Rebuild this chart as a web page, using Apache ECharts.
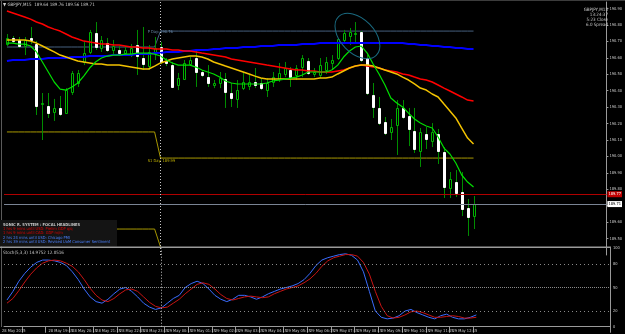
<!DOCTYPE html>
<html>
<head>
<meta charset="utf-8">
<script src="https://cdn.jsdelivr.net/npm/echarts@6/dist/echarts.min.js"></script>
<style>
html, body { margin: 0; padding: 0; background: #000; }
#chart { width: 625px; height: 334px; }
</style>
</head>
<body>
<div id="chart"></div>
<script>
// GBPJPY M15, 28 May 17:30 .. 29 May 13:15
const opens = [190.684,190.721,190.709,190.672,190.721,190.684,190.319,190.307,190.270,190.295,
  190.264,190.392,190.447,190.575,190.636,190.751,190.660,190.690,190.648,190.648,
  190.629,190.617,190.678,190.599,190.550,190.629,190.666,190.581,190.556,190.435,
  190.471,190.563,190.599,190.514,190.483,190.435,190.447,190.471,190.386,190.350,
  190.416,190.429,190.453,190.447,190.404,190.453,190.471,190.502,190.526,190.496,
  190.544,190.581,190.502,190.496,190.526,190.569,190.599,190.709,190.733,190.745,
  190.757,190.599,190.374,190.295,190.210,190.149,190.191,190.295,190.246,190.155,
  190.033,190.137,190.094,190.137,190.027,189.808,189.844,189.784,189.686,189.637]
const closes = [190.721,190.703,190.672,190.709,190.709,190.307,190.325,190.264,190.295,190.258,
  190.404,190.508,190.508,190.629,190.757,190.666,190.709,190.648,190.672,190.629,
  190.648,190.660,190.611,190.563,190.636,190.660,190.575,190.569,190.423,190.477,
  190.569,190.587,190.514,190.496,190.447,190.447,190.477,190.392,190.356,190.404,
  190.453,190.453,190.435,190.416,190.447,190.483,190.508,190.538,190.483,190.538,
  190.599,190.508,190.514,190.556,190.575,190.587,190.715,190.751,190.757,190.751,
  190.587,190.386,190.301,190.203,190.143,190.179,190.295,190.240,190.167,190.045,
  190.149,190.106,190.149,190.033,189.814,189.863,189.777,189.680,189.631,189.711]
const highs = [190.745,190.733,190.727,190.727,190.788,190.703,190.386,190.386,190.350,190.368,
  190.416,190.520,190.526,190.696,190.770,190.818,190.733,190.721,190.709,190.672,
  190.672,190.684,190.770,190.788,190.678,190.727,190.696,190.599,190.575,190.508,
  190.587,190.605,190.648,190.526,190.556,190.465,190.514,190.508,190.447,190.465,
  190.508,190.496,190.538,190.477,190.477,190.514,190.569,190.575,190.544,190.556,
  190.617,190.599,190.538,190.599,190.605,190.617,190.721,190.770,190.782,190.818,
  190.763,190.617,190.447,190.362,190.240,190.228,190.343,190.343,190.295,190.295,
  190.173,190.179,190.203,190.167,190.057,189.905,189.917,189.905,189.741,189.759]
const lows = [190.672,190.690,190.660,190.617,190.684,190.252,190.100,190.234,190.216,190.246,
  190.258,190.374,190.423,190.556,190.623,190.648,190.636,190.636,190.617,190.611,
  190.611,190.605,190.496,190.526,190.526,190.587,190.563,190.550,190.416,190.404,
  190.465,190.550,190.423,190.483,190.423,190.416,190.416,190.295,190.301,190.295,
  190.404,190.404,190.416,190.404,190.362,190.423,190.453,190.483,190.423,190.465,
  190.483,190.496,190.483,190.477,190.502,190.526,190.587,190.690,190.678,190.690,
  190.575,190.374,190.234,190.191,190.130,190.100,190.009,190.228,190.063,190.021,
  189.936,190.045,190.057,189.954,189.747,189.747,189.753,189.637,189.516,189.558]

const maRed = [190.885,190.873,190.861,190.849,190.836,190.818,190.806,190.788,190.775,190.763,
  190.745,190.727,190.715,190.702,190.696,190.690,190.684,190.684,190.678,190.678,
  190.672,190.666,190.666,190.660,190.660,190.654,190.654,190.654,190.648,190.648,
  190.642,190.642,190.636,190.629,190.623,190.617,190.611,190.605,190.593,190.587,
  190.581,190.575,190.569,190.563,190.556,190.550,190.544,190.538,190.532,190.526,
  190.526,190.520,190.520,190.514,190.514,190.514,190.520,190.526,190.538,190.550,
  190.556,190.550,190.544,190.538,190.526,190.520,190.514,190.502,190.496,190.483,
  190.471,190.465,190.453,190.435,190.416,190.398,190.380,190.362,190.343,190.337]
const maGold = [190.709,190.709,190.709,190.709,190.702,190.690,190.672,190.654,190.636,190.617,
  190.605,190.593,190.581,190.575,190.569,190.563,190.563,190.556,190.556,190.556,
  190.550,190.544,190.538,190.532,190.532,190.550,190.569,190.581,190.593,190.599,
  190.605,190.611,190.611,190.605,190.593,190.575,190.563,190.550,190.538,190.526,
  190.514,190.502,190.489,190.477,190.471,190.471,190.471,190.471,190.471,190.471,
  190.471,190.471,190.471,190.477,190.477,190.483,190.502,190.520,190.538,190.550,
  190.556,190.556,190.550,190.538,190.526,190.514,190.502,190.483,190.465,190.441,
  190.416,190.404,190.380,190.362,190.319,190.277,190.234,190.173,190.112,190.076]
const maBlue = [190.581,190.587,190.587,190.587,190.593,190.593,190.593,190.599,190.599,190.599,
  190.599,190.605,190.605,190.605,190.611,190.611,190.611,190.611,190.617,190.617,
  190.617,190.617,190.623,190.623,190.623,190.629,190.629,190.636,190.636,190.636,
  190.642,190.642,190.648,190.648,190.648,190.654,190.654,190.660,190.660,190.660,
  190.666,190.666,190.666,190.672,190.672,190.672,190.678,190.678,190.678,190.678,
  190.684,190.684,190.684,190.690,190.690,190.690,190.690,190.690,190.690,190.690,
  190.690,190.690,190.690,190.690,190.690,190.690,190.690,190.690,190.684,190.684,
  190.678,190.678,190.672,190.672,190.666,190.666,190.660,190.660,190.654,190.654]
const maGreen = [190.690,190.690,190.684,190.684,190.672,190.636,190.575,190.514,190.453,190.410,
  190.404,190.423,190.447,190.489,190.538,190.575,190.599,190.611,190.617,190.617,
  190.623,190.623,190.629,190.629,190.629,190.623,190.611,190.587,190.569,190.556,
  190.556,190.556,190.544,190.526,190.514,190.502,190.483,190.459,190.447,190.441,
  190.441,190.441,190.441,190.441,190.447,190.459,190.465,190.471,190.477,190.483,
  190.496,190.514,190.514,190.514,190.514,190.526,190.556,190.605,190.642,190.666,
  190.672,190.629,190.563,190.502,190.435,190.356,190.325,190.301,190.264,190.228,
  190.203,190.185,190.173,190.118,190.051,190.015,189.960,189.887,189.844,189.814]

// stochastic (5,3,3): main and signal
const stochMain = [34,45,58,68,76,82,85,85,84,82,
  78,70,60,48,38,32,30,35,42,48,
  50,45,38,30,25,22,24,30,36,40,
  50,55,58,55,48,40,35,32,35,40,
  40,38,35,38,42,45,48,50,52,55,
  60,68,78,85,88,90,92,93,91,85,
  70,45,20,12,10,11,14,20,22,18,
  15,12,10,14,16,12,10,10,12,15]
const stochSignal = [30,36,46,57,67,75,81,84,85,84,
  81,77,70,60,49,40,34,32,36,42,
  47,48,45,38,31,26,24,25,30,35,
  42,48,54,56,54,48,41,36,34,36,
  38,39,38,37,38,42,45,48,50,52,
  56,61,68,77,84,88,90,92,92,90,
  82,67,45,26,14,11,12,15,19,20,
  18,15,12,12,13,14,13,11,11,12]

// daily pivot levels: [previous day, current day]
const pivotP = [190.666, 190.763]
const pivotS1 = [190.149, 189.990]
const pivotS2 = [189.558, 189.449]
const dayStart = 26
const redLevel = 189.771
const bidLevel = 189.711
const priceTicks = [189.4, 190.94, 0.1]
const stochLevels = [80, 50, 20]

const times = []
for (let k = 0; k < 80; k++) {
    const mins = 17 * 60 + 30 + 15 * k
    const day = 28 + Math.floor(mins / 1440)
    const m = mins % 1440
    times.push(day + ' May ' + String(Math.floor(m / 60)).padStart(2, '0') + ':' + String(m % 60).padStart(2, '0'))
}
while (times.length < 102) times.push('')

const pLine = opens.map((v, i) => (i < dayStart ? pivotP[0] : pivotP[1]))
const s1Line = opens.map((v, i) => (i < dayStart ? pivotS1[0] : pivotS1[1]))
const s2Line = opens.map((v, i) => (i < dayStart ? pivotS2[0] : i === dayStart ? pivotS2[1] : '-'))
const candles = opens.map((o, i) => [i, o, closes[i], lows[i], highs[i]])

const tiny = '"Liberation Sans Narrow","DejaVu Sans Condensed",sans-serif'
const txt = '#c8c8c8'

const chart = echarts.init(document.getElementById('chart'), null, { renderer: 'canvas' })

const lineSeries = (data, color, width, z) => ({
    type: 'line', data, xAxisIndex: 0, yAxisIndex: 0,
    showSymbol: false, silent: true, z,
    lineStyle: { color, width }
})

const option = {
    backgroundColor: '#000',
    animation: false,
    grid: [
        { left: 4, right: 15, top: 2, height: 253 },
        { left: 4, right: 15, top: 248.3, height: 78.4 }
    ],
    xAxis: [
        { type: 'category', gridIndex: 0, data: times, axisLine: { show: false }, axisTick: { show: false }, axisLabel: { show: false }, splitLine: { show: false } },
        {
            type: 'category', gridIndex: 1, data: times,
            axisLine: { lineStyle: { color: '#9a9a9a', width: 1 } },
            axisTick: { show: true, length: 6, interval: i => i % 4 === 3 && i < 80, lineStyle: { color: '#9a9a9a' } },
            axisLabel: { interval: i => i % 4 === 3 && i < 80, align: 'left', margin: 2, fontSize: 4, color: txt, fontFamily: tiny },
            splitLine: { show: false }
        }
    ],
    yAxis: [
        {
            type: 'value', gridIndex: 0, position: 'right', min: priceTicks[0], max: priceTicks[1], interval: priceTicks[2],
            axisLine: { show: true, lineStyle: { color: '#9a9a9a' } },
            axisTick: { show: true, length: 2, lineStyle: { color: '#9a9a9a' } },
            axisLabel: { showMinLabel: false, showMaxLabel: false, margin: 3, fontSize: 4, color: txt, fontFamily: tiny, formatter: v => v.toFixed(2) },
            splitLine: { show: false }
        },
        {
            type: 'value', gridIndex: 1, position: 'right', min: 0, max: 100, interval: 10,
            axisLine: { show: true, lineStyle: { color: '#9a9a9a' } },
            axisTick: { show: false },
            axisLabel: { margin: 3, fontSize: 4, color: txt, fontFamily: tiny, formatter: v => ([0, 20, 50, 80, 100].includes(v) ? String(v) : '') },
            splitLine: { show: false }
        }
    ],
    series: [
        lineSeries(pLine, '#46607e', 1, 1),
        lineSeries(s1Line, '#a89800', 1, 1),
        lineSeries(s2Line, '#a89800', 1, 1),
        {
            type: 'custom', xAxisIndex: 0, yAxisIndex: 0, z: 2, silent: true,
            encode: { x: 0, y: [1, 2, 3, 4] },
            data: candles,
            renderItem: (params, api) => {
                const i = api.value(0)
                const o = api.coord([i, api.value(1)])
                const c = api.coord([i, api.value(2)])
                const l = api.coord([i, api.value(3)])
                const h = api.coord([i, api.value(4)])
                const x = Math.round(o[0])
                const up = api.value(2) >= api.value(1)
                const top = Math.round(Math.min(o[1], c[1]))
                const bot = Math.round(Math.max(o[1], c[1]))
                return {
                    type: 'group',
                    children: [
                        { type: 'line', shape: { x1: x + 0.5, y1: h[1], x2: x + 0.5, y2: l[1] }, style: { stroke: '#008c00', lineWidth: 1 } },
                        {
                            type: 'rect',
                            shape: { x: x - 0.5, y: top + 0.5, width: 2, height: Math.max(bot - top, 0) },
                            style: up ? { fill: '#000', stroke: '#00b400', lineWidth: 1 } : { fill: '#fff', stroke: '#fff', lineWidth: 1 }
                        }
                    ]
                }
            }
        },
        Object.assign(lineSeries(maBlue, '#0000ff', 2, 3), {
            markLine: {
                symbol: 'none', silent: true, animation: false,
                data: [
                    {
                        yAxis: redLevel, lineStyle: { color: '#b00000', width: 1, type: 'solid' },
                        label: { position: 'end', distance: 1, formatter: redLevel.toFixed(2), backgroundColor: '#c00000', color: '#fff', fontSize: 4, fontFamily: tiny, padding: [1, 1] }
                    },
                    {
                        yAxis: bidLevel, lineStyle: { color: '#7a8494', width: 1, type: 'solid' },
                        label: { position: 'end', distance: 1, formatter: bidLevel.toFixed(2), backgroundColor: '#fff', color: '#000', fontSize: 4, fontFamily: tiny, padding: [1, 1] }
                    },
                    { xAxis: times[dayStart], lineStyle: { color: '#c8c8c8', width: 1, type: [1, 2] }, label: { show: false } }
                ]
            }
        }),
        lineSeries(maRed, '#ff0000', 1.5, 3),
        lineSeries(maGold, '#f2c200', 1.5, 3),
        lineSeries(maGreen, '#00e000', 1.2, 4),
        {
            type: 'line', data: stochMain, xAxisIndex: 1, yAxisIndex: 1, showSymbol: false, silent: true,
            lineStyle: { color: '#3a6cff', width: 1 },
            markLine: {
                symbol: 'none', silent: true, animation: false, label: { show: false },
                data: stochLevels.map(v => ({ yAxis: v, lineStyle: { color: '#8a8a8a', width: 1, type: v === 50 ? [1, 1] : [1, 3] } }))
                    .concat([{ xAxis: times[dayStart], lineStyle: { color: '#c8c8c8', width: 1, type: [1, 2] } }])
            }
        },
        {
            type: 'line', data: stochSignal, xAxisIndex: 1, yAxisIndex: 1, showSymbol: false, silent: true,
            lineStyle: { color: '#c81414', width: 1 }
        }
    ]
}
chart.setOption(option)

// annotations positioned from data coordinates
const px = (i, v) => chart.convertToPixel({ xAxisIndex: 0, yAxisIndex: 0 }, [i, v])
const pLab = px(dayStart - 2, pivotP[1])
const sLab = px(dayStart - 2, pivotS1[1])
const ell = px(59, 190.733)
const news = [
    ['SONIC R. SYSTEM : FOCAL HEADLINES', '#c8c8c8'],
    ['1 hrs 9 mins until USD: Prelim GDP q/q', '#e00000'],
    ['1 hrs 9 mins until CAD: GDP m/m', '#e00000'],
    ['2 hrs 24 mins until USD: Chicago PMI', '#4a80ff'],
    ['2 hrs 39 mins until USD: Revised UoM Consumer Sentiment', '#4a80ff']
]
const info = ['GBPJPY,M15', '13:24:37', '5:23 Close', '6.0 Spread']

const graphic = [
    { type: 'rect', shape: { x: 0, y: 0, width: 625, height: 1 }, style: { fill: '#3c3c3c' }, silent: true },
    { type: 'rect', shape: { x: 1, y: 1, width: 1, height: 326 }, style: { fill: '#5a5a5a' }, silent: true },
    { type: 'rect', shape: { x: 0, y: 246.5, width: 611, height: 1.5 }, style: { fill: '#9a9a9a' }, z: 10, silent: true },
    { type: 'text', left: 3, top: 2, style: { text: '\u25BC GBPJPY,M15  189.64 189.76 189.56 189.71', fill: txt, fontSize: 4.5, fontFamily: tiny }, z: 10 },
    { type: 'text', left: 3, top: 250, style: { text: 'Stoch(5,3,3) 14.9752 12.0516', fill: txt, fontSize: 4.5, fontFamily: tiny }, z: 10 },
    { type: 'text', left: 2, top: 329, style: { text: '28 May 2015', fill: txt, fontSize: 4, fontFamily: tiny }, z: 10 },
    { type: 'rect', shape: { x: 0, y: 220, width: 117, height: 26.5 }, style: { fill: '#141414' }, z: 9, silent: true },
    { type: 'text', x: pLab[0] - 1, y: pLab[1] - 1, style: { text: 'P Day: ' + pivotP[1].toFixed(2), fill: '#6a8aaa', fontSize: 4, fontFamily: tiny }, z: 10 },
    { type: 'text', x: sLab[0] - 1, y: sLab[1] + 1, style: { text: 'S1 Day: ' + pivotS1[1].toFixed(2), fill: '#c0b000', fontSize: 4, fontFamily: tiny }, z: 10 },
    { type: 'ellipse', x: ell[0] + 2, y: ell[1], rotation: -0.8, shape: { cx: 0, cy: 0, rx: 27, ry: 17 }, style: { fill: 'none', stroke: '#1a6a80', lineWidth: 1 }, z: 10, silent: true }
]
news.forEach(([t, c], j) => {
    graphic.push({ type: 'text', x: 3, y: 222.5 + j * 4.4, style: { text: t, fill: c, fontSize: 4, fontWeight: j === 0 ? 'bold' : 'normal', fontFamily: tiny }, z: 11 })
})
info.forEach((t, j) => {
    graphic.push({ type: 'text', x: 608, y: 7 + j * 5.2, style: { text: t, fill: txt, fontSize: 4.5, fontFamily: tiny, align: 'right' }, z: 10 })
})
chart.setOption({ graphic })
</script>
</body>
</html>
